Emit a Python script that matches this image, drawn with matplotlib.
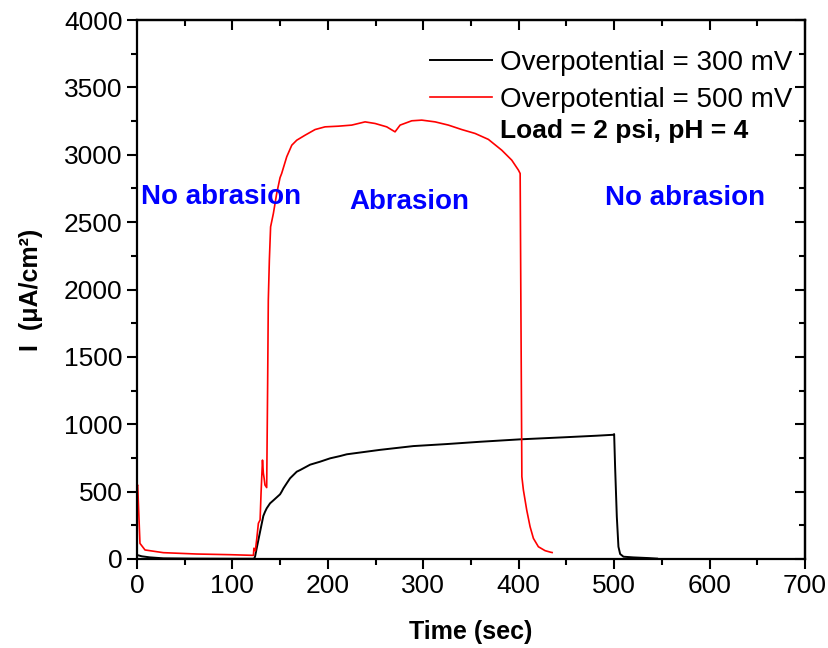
import matplotlib
matplotlib.use('Agg')
import matplotlib.pyplot as plt
from matplotlib.ticker import MultipleLocator

# Overpotential = 300 mV (black)
t_300 = [0, 5, 13.6, 27.6, 60, 100, 122.6, 123.7, 125.4, 128.9, 132.4, 134.2, 135.9, 139.4,
         142.9, 149.9, 151.6, 153.4, 156.9, 160.4, 162.1, 167.4, 170.9, 181.4, 191.8, 202.3,
         212.8, 219.8, 254.7, 289.6, 324.6, 359.5, 401.5, 446.9, 481.8, 499.3, 500, 501,
         502.8, 504.5, 506.3, 509.8, 520, 535.7, 545]
i_300 = [30, 20, 12, 5, 3, 2, 2, 17, 79, 200, 320, 351, 376, 413,
         435, 480, 500, 524, 562, 599, 611, 648, 660, 700, 722, 747,
         764, 777, 810, 838, 853, 870, 888, 903, 915, 922, 927, 685,
         314, 91, 37, 17, 12, 7, 3]

# Overpotential = 500 mV (red)
t_500 = [0, 0.7, 3.1, 8.4, 27.6, 62.5, 97.5, 122, 122.5, 124, 125.5, 127.2, 129, 130,
         131.5, 132.4, 133.2, 134.1, 135.9, 136.9, 137.6, 138.7, 140, 142.9, 146.4, 149.9,
         151.6, 156.9, 162.2, 167.4, 176.1, 186.6, 197, 211, 225, 239, 249.5, 261.7, 270.4,
         275.7, 287.9, 298.4, 312.4, 326.3, 340.3, 354.3, 368.2, 382.2, 392.7, 399.7,
         401.5, 403.3, 404.9, 408.4, 411.9, 415.4, 420.6, 427.6, 433.6, 435]
i_500 = [540, 549, 116, 67, 47, 37, 32, 27, 80, 60, 150, 265, 290, 490,
         734, 637, 600, 549, 530, 1300, 1921, 2218, 2465, 2564, 2713, 2830,
         2861, 2985, 3071, 3108, 3145, 3187, 3207, 3212, 3220, 3244, 3232, 3207, 3170,
         3220, 3252, 3257, 3244, 3220, 3187, 3158, 3114, 3034, 2960, 2886,
         2861, 611, 512, 363, 240, 153, 91, 62, 50, 48]

x_ticks = [0, 100, 200, 300, 400, 500, 600, 700]
y_ticks = [0, 500, 1000, 1500, 2000, 2500, 3000, 3500, 4000]

plt.rcParams['font.family'] = ['Liberation Sans', 'DejaVu Sans']

W, H = 829, 648
fig = plt.figure(figsize=(W / 100, H / 100), dpi=100)
ax = fig.add_axes([137 / W, 1 - 559 / H, (805 - 137) / W, (559 - 20) / H])

ax.plot(t_300, i_300, color='black', lw=1.4, label='Overpotential = 300 mV')
ax.plot(t_500, i_500, color='#ff0000', lw=1.2, label='Overpotential = 500 mV')

ax.set_xlim(0, 700)
ax.set_ylim(0, 4000)
ax.set_xticks(x_ticks)
ax.set_yticks(y_ticks)
ax.xaxis.set_minor_locator(MultipleLocator(50))
ax.yaxis.set_minor_locator(MultipleLocator(250))
ax.tick_params(which='both', direction='out', labelsize=19, width=1.5, colors='black')
ax.tick_params(which='major', length=7)
ax.tick_params(which='minor', length=4)
for s in ax.spines.values():
    s.set_linewidth(1.6)

secx = ax.secondary_xaxis('top')
secx.set_xticks(x_ticks)
secx.xaxis.set_minor_locator(MultipleLocator(50))
secx.tick_params(which='both', direction='in', labeltop=False, width=1.5)
secx.tick_params(which='major', length=7)
secx.tick_params(which='minor', length=4)
secx.spines['top'].set_linewidth(1.6)

secy = ax.secondary_yaxis('right')
secy.set_yticks(y_ticks)
secy.yaxis.set_minor_locator(MultipleLocator(250))
secy.tick_params(which='both', direction='in', labelright=False, width=1.5)
secy.tick_params(which='major', length=7)
secy.tick_params(which='minor', length=4)
secy.spines['right'].set_linewidth(1.6)

ax.set_xlabel('Time (sec)', fontsize=18, fontweight='bold')
ax.xaxis.set_label_coords(0.5, (559 - 620) / 539)
ax.set_ylabel('I  (μA/cm²)', fontsize=18, fontweight='bold')
ax.yaxis.set_label_coords((43 - 137) / 668, 0.5)

ax.text(4.2, 2690, 'No abrasion', color='#0000ff', fontsize=20, fontweight='bold',
        ha='left', va='center')
ax.text(285.6, 2650, 'Abrasion', color='#0000ff', fontsize=20, fontweight='bold',
        ha='center', va='center')
ax.text(573.9, 2680, 'No abrasion', color='#0000ff', fontsize=20, fontweight='bold',
        ha='center', va='center')

leg = ax.legend(loc='upper left', bbox_to_anchor=(430 / W, 1 - 50 / H),
                bbox_transform=fig.transFigure, frameon=False, fontsize=20,
                handlelength=2.23, handletextpad=0.29, borderpad=0, borderaxespad=0,
                labelspacing=0.4)
fig.text(500 / W, 1 - 131 / H, 'Load = 2 psi, pH = 4', fontsize=19, fontweight='bold',
         ha='left', va='center')

fig.savefig('out.png', dpi=100)
